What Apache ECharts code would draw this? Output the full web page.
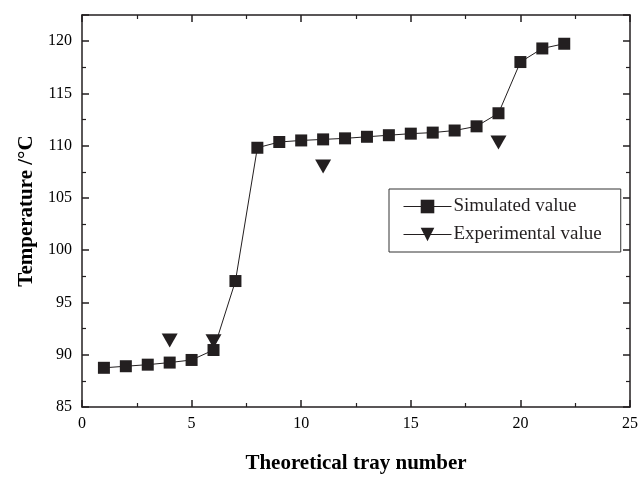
<!DOCTYPE html>
<html><head><meta charset="utf-8">
<script src="https://cdn.jsdelivr.net/npm/echarts@6/dist/echarts.min.js"></script>
<style>html,body{margin:0;padding:0;background:#fff}#c{width:641px;height:479px}</style>
</head><body><div id="c"></div>
<script>
const simX = [1,2,3,4,5,6,7,8,9,10,11,12,13,14,15,16,17,18,19,20,21,22];
const simY = [88.75,88.9,89.05,89.25,89.5,90.45,97.05,109.8,110.35,110.5,110.6,110.7,110.85,111.0,111.15,111.25,111.45,111.85,113.1,118.0,119.3,119.75];
const expX = [4,6,11,19];
const expY = [91.35,91.3,108.0,110.3];
const xTicks = [0,5,10,15,20,25];
const yTicks = [85,90,95,100,105,110,115,120];

const ink = '#231f20';
const font = '"Liberation Serif","Times New Roman",serif';
const tri = 'path://M0,0 L16,0 L8,14 Z';

const chart = echarts.init(document.getElementById('c'), null, {renderer:'canvas'});
const axisCommon = {
  axisLine:{show:true,onZero:false,lineStyle:{color:ink,width:1.5}},
  axisTick:{show:true,inside:true,length:7,lineStyle:{color:ink,width:1.5}},
  minorTick:{show:true,splitNumber:2,length:4,lineStyle:{color:ink,width:1.2}},
  splitLine:{show:false}
};
chart.setOption({
  animation:false,
  backgroundColor:'#fff',
  grid:{left:82,right:9,top:15,bottom:67},
  legend:{
    orient:'vertical', left:389, top:189,
    data:['Simulated value','Experimental value'],
    backgroundColor:'#fff', borderColor:'#333', borderWidth:1,
    padding:[8,19,8,14], itemGap:9, itemWidth:48, itemHeight:17,
    textStyle:{fontFamily:font,fontSize:19,color:ink,padding:[0,0,0,-3]},
    lineStyle:{color:ink,width:1,opacity:1},
    itemStyle:{color:ink}
  },
  xAxis:[
    Object.assign({type:'value',min:0,max:25,interval:5,position:'bottom',
      name:'Theoretical tray number',nameLocation:'middle',nameGap:46,
      nameTextStyle:{fontFamily:font,fontSize:21,fontWeight:'bold',color:'#000'},
      axisLabel:{fontFamily:font,fontSize:16,color:'#000',margin:9,
        formatter:v=>xTicks.indexOf(v)>=0?String(v):''}},axisCommon),
    Object.assign({type:'value',min:0,max:25,interval:5,position:'top',axisLabel:{show:false}},axisCommon)
  ],
  yAxis:[
    Object.assign({type:'value',min:85,max:122.5,interval:5,position:'left',
      name:'Temperature /°C',nameLocation:'middle',nameGap:44,
      nameTextStyle:{fontFamily:font,fontSize:21,fontWeight:'bold',color:'#000'},
      axisLabel:{fontFamily:font,fontSize:16,color:'#000',margin:10,showMaxLabel:false,
        formatter:v=>yTicks.indexOf(v)>=0?String(v):''}},axisCommon),
    Object.assign({type:'value',min:85,max:122.5,interval:5,position:'right',axisLabel:{show:false}},axisCommon)
  ],
  series:[
    {name:'Simulated value',type:'line',data:simX.map((x,i)=>[x,simY[i]]),
      symbol:'rect',symbolSize:12,showAllSymbol:true,
      lineStyle:{color:ink,width:1},itemStyle:{color:ink,opacity:1},z:3},
    {name:'Experimental value',type:'line',data:expX.map((x,i)=>[x,expY[i]]),
      symbol:tri,symbolSize:[16,14],showAllSymbol:true,
      lineStyle:{color:ink,width:1,opacity:0},itemStyle:{color:ink,opacity:1},z:4}
  ]
});
</script></body></html>
